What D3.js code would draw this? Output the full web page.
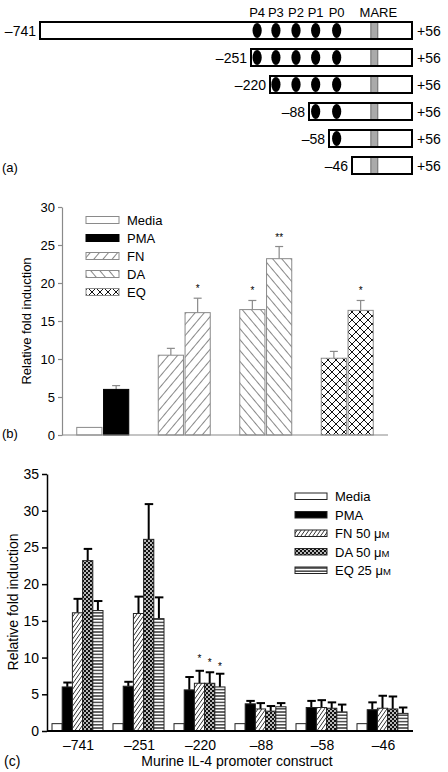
<!DOCTYPE html>
<html><head><meta charset="utf-8">
<script src="https://cdn.jsdelivr.net/npm/d3@7"></script>
<style>
html,body{margin:0;padding:0;background:#fff;}
svg{display:block;font-family:"Liberation Sans",Arial,Helvetica,sans-serif;}
</style></head>
<body><svg id="chart" width="448" height="772"></svg>
<script>
// ---------- Panel (a) data ----------
const constructStarts = [-741, -251, -220, -88, -58, -46];
const constructEnd = 56;
const siteNames = ["P4", "P3", "P2", "P1", "P0"];
const sitePositions = [-241, -200, -132, -78, -54];
const mareName = "MARE";
const marePosition = -8;

// ---------- Panel (b) data ----------
const bSeries = ["Media", "PMA", "FN", "DA", "EQ"];
const bGroups = ["Control", "FN", "DA", "EQ"];
const bGroupSeries = [["Media", "PMA"], ["FN", "FN"], ["DA", "DA"], ["EQ", "EQ"]];
const bValues = [[1.0, 6.0], [10.5, 16.1], [16.5, 23.2], [10.1, 16.4]];
const bErrTop = [[null, 6.5], [11.4, 18.0], [17.7, 24.8], [11.0, 17.7]];
const bStars = [["", ""], ["", "*"], ["*", "**"], ["", "*"]];
const bTicks = [0, 5, 10, 15, 20, 25, 30];

// ---------- Panel (c) data ----------
const cConstructs = ["–741", "–251", "–220", "–88", "–58", "–46"];
const cSeries = ["Media", "PMA", "FN 50 ", "DA 50 ", "EQ 25 "];
const cValues = [
  [1, 1, 1, 1, 1, 1],
  [6.0, 6.1, 5.6, 3.7, 3.2, 2.9],
  [16.1, 16.0, 6.5, 3.0, 3.2, 3.1],
  [23.2, 26.1, 6.5, 2.7, 3.1, 3.0],
  [16.4, 15.3, 6.0, 3.3, 2.6, 2.4]
];
const cErrTop = [
  [null, null, null, null, null, null],
  [6.6, 6.7, 7.35, 4.1, 4.1, 3.9],
  [18.0, 18.3, 8.2, 3.8, 4.2, 4.8],
  [24.8, 30.9, 8.0, 3.4, 3.9, 4.7],
  [17.7, 18.2, 7.8, 3.8, 3.6, 3.2]
];
const cStars = [
  ["", "", "", "", "", ""],
  ["", "", "", "", "", ""],
  ["", "", "*", "", "", ""],
  ["", "", "*", "", "", ""],
  ["", "", "*", "", "", ""]
];
const cTicks = [0, 5, 10, 15, 20, 25, 30, 35];

const svg = d3.select("#chart");
const defs = svg.append("defs");

// ---------- patterns ----------
function linePattern(id, size, angle, color, sw, bg) {
  const p = defs.append("pattern").attr("id", id).attr("patternUnits", "userSpaceOnUse")
    .attr("width", size).attr("height", size).attr("patternTransform", `rotate(${angle})`);
  p.append("rect").attr("width", size).attr("height", size).attr("fill", bg || "#fff");
  p.append("line").attr("x1", 0).attr("y1", 0).attr("x2", 0).attr("y2", size)
    .attr("stroke", color).attr("stroke-width", sw);
  return p;
}
// panel b
linePattern("bFN", 7, 40, "#111", 1);
linePattern("bDA", 7, -40, "#111", 1);
(function () {
  const p = defs.append("pattern").attr("id", "bEQ").attr("patternUnits", "userSpaceOnUse")
    .attr("width", 8).attr("height", 8);
  p.append("rect").attr("width", 8).attr("height", 8).attr("fill", "#fff");
  p.append("path").attr("d", "M0,0L8,8M8,0L0,8").attr("stroke", "#111").attr("stroke-width", 1);
})();
// panel c
linePattern("cFN", 3.2, 35, "#000", 1.3);
(function () {
  const p = defs.append("pattern").attr("id", "cDA").attr("patternUnits", "userSpaceOnUse")
    .attr("width", 4).attr("height", 4);
  p.append("rect").attr("width", 4).attr("height", 4).attr("fill", "#111");
  p.append("circle").attr("cx", 1).attr("cy", 1).attr("r", 0.95).attr("fill", "#fff");
  p.append("circle").attr("cx", 3).attr("cy", 3).attr("r", 0.95).attr("fill", "#fff");
})();
(function () {
  const p = defs.append("pattern").attr("id", "cEQ").attr("patternUnits", "userSpaceOnUse")
    .attr("width", 4).attr("height", 3.2);
  p.append("rect").attr("width", 4).attr("height", 3.2).attr("fill", "#fff");
  p.append("line").attr("x1", 0).attr("x2", 4).attr("y1", 1.6).attr("y2", 1.6)
    .attr("stroke", "#000").attr("stroke-width", 1.1);
})();

const bFill = { "Media": "#fff", "PMA": "#000", "FN": "url(#bFN)", "DA": "url(#bDA)", "EQ": "url(#bEQ)" };
const cFill = ["#fff", "#000", "url(#cFN)", "url(#cDA)", "url(#cEQ)"];

// ================= Panel (a) =================
const gA = svg.append("g");
const xA = d3.scaleLinear()
  .domain([...constructStarts, constructEnd])
  .range([40, 251, 270, 309, 329, 352, 412]);
const boxH = 17;

gA.selectAll("text.site").data(siteNames).join("text")
  .attr("x", (d, i) => xA(sitePositions[i])).attr("y", 17)
  .attr("text-anchor", "middle").attr("font-size", 13).text(d => d);
gA.append("text").attr("x", xA(marePosition) + 4).attr("y", 17)
  .attr("text-anchor", "middle").attr("font-size", 13).text(mareName);

constructStarts.forEach((s, i) => {
  const y0 = 22 + i * 27;
  const x0 = xA(s), x1 = xA(constructEnd);
  const cid = "clipRow" + i;
  defs.append("clipPath").attr("id", cid).append("rect")
    .attr("x", x0).attr("y", y0).attr("width", x1 - x0).attr("height", boxH);
  const row = gA.append("g");
  row.append("rect").attr("x", x0).attr("y", y0).attr("width", x1 - x0).attr("height", boxH).attr("fill", "#fff");
  const inner = row.append("g").attr("clip-path", `url(#${cid})`);
  sitePositions.forEach(p => {
    if (xA(p) + 5 > x0) {
      inner.append("ellipse").attr("cx", xA(p)).attr("cy", y0 + boxH / 2)
        .attr("rx", 4.6).attr("ry", 7.6).attr("fill", "#000");
    }
  });
  inner.append("rect").attr("x", xA(marePosition) - 3.5).attr("y", y0).attr("width", 7).attr("height", boxH)
    .attr("fill", "#aaa").attr("stroke", "#555").attr("stroke-width", 0.8);
  row.append("rect").attr("x", x0).attr("y", y0).attr("width", x1 - x0).attr("height", boxH)
    .attr("fill", "none").attr("stroke", "#000").attr("stroke-width", 2);
  row.append("text").attr("x", x0 - 4).attr("y", y0 + boxH / 2 + 5).attr("text-anchor", "end")
    .attr("font-size", 14).text("–" + Math.abs(s));
  row.append("text").attr("x", x1 + 5).attr("y", y0 + boxH / 2 + 5)
    .attr("font-size", 14).text("+" + constructEnd);
});
svg.append("text").attr("x", 2).attr("y", 172).attr("font-size", 13).text("(a)");

// ================= Panel (b) =================
const gB = svg.append("g");
const yB = d3.scaleLinear().domain([0, 30]).range([435, 207]);
const xB = d3.scaleBand().domain(bGroups).range([62, 388]);
const xBin = d3.scaleBand().domain([0, 1]).range([xB.bandwidth() / 2 - 26, xB.bandwidth() / 2 + 26]).paddingInner(0.06);
const grey = "#8a8a8a";

bGroups.forEach((g, gi) => {
  [0, 1].forEach(j => {
    const x = xB(g) + xBin(j), w = xBin.bandwidth();
    const v = bValues[gi][j];
    const s = bGroupSeries[gi][j];
    const e = bErrTop[gi][j];
    const cx = x + w / 2;
    if (e != null) {
      gB.append("line").attr("x1", cx).attr("x2", cx).attr("y1", yB(v)).attr("y2", yB(e)).attr("stroke", grey).attr("stroke-width", 1.2);
      gB.append("line").attr("x1", cx - 4).attr("x2", cx + 4).attr("y1", yB(e)).attr("y2", yB(e)).attr("stroke", grey).attr("stroke-width", 1.2);
    }
    gB.append("rect").attr("x", x).attr("y", yB(v)).attr("width", w).attr("height", yB(0) - yB(v))
      .attr("fill", bFill[s]).attr("stroke", s === "PMA" ? "#000" : grey).attr("stroke-width", 1);
    if (bStars[gi][j]) {
      gB.append("text").attr("x", cx).attr("y", yB(e) - 6).attr("text-anchor", "middle")
        .attr("font-size", 10).attr("fill", "#000").text(bStars[gi][j]);
    }
  });
});
gB.append("line").attr("x1", 62).attr("x2", 388).attr("y1", yB(0)).attr("y2", yB(0)).attr("stroke", grey).attr("stroke-width", 1.2);
const axB = gB.append("g").attr("transform", "translate(62,0)")
  .call(d3.axisLeft(yB).tickValues(bTicks).tickSize(4).tickSizeOuter(0).tickPadding(3));
axB.select(".domain").attr("stroke", grey).attr("stroke-width", 1.2);
axB.selectAll(".tick line").attr("stroke", grey).attr("stroke-width", 1.2);
axB.selectAll(".tick text").attr("font-size", 13).attr("font-family", "Liberation Sans, Arial, sans-serif").attr("fill", "#000");
gB.append("text").attr("transform", "translate(31,321) rotate(-90)").attr("text-anchor", "middle")
  .attr("font-size", 13).text("Relative fold induction");
svg.append("text").attr("x", 2).attr("y", 438).attr("font-size", 13).text("(b)");

// legend b
bSeries.forEach((s, i) => {
  const cy = 220 + i * 18;
  gB.append("rect").attr("x", 86).attr("y", cy - 3.5).attr("width", 33).attr("height", 7)
    .attr("fill", bFill[s]).attr("stroke", s === "PMA" ? "#000" : grey).attr("stroke-width", 1);
  gB.append("text").attr("x", 127).attr("y", cy + 5).attr("font-size", 13).text(s);
});

// ================= Panel (c) =================
const gC = svg.append("g");
const yC = d3.scaleLinear().domain([0, 35]).range([731, 474]);
const xC = d3.scaleBand().domain(cConstructs).range([47, 413]);
const xCin = d3.scaleBand().domain(d3.range(cSeries.length)).range([5, xC.bandwidth() - 5]);

cConstructs.forEach((c, ci) => {
  cSeries.forEach((s, si) => {
    const x = xC(c) + xCin(si), w = xCin.bandwidth();
    const v = cValues[si][ci], e = cErrTop[si][ci];
    const cx = x + w / 2;
    if (e != null) {
      gC.append("line").attr("x1", cx).attr("x2", cx).attr("y1", yC(v)).attr("y2", yC(e)).attr("stroke", "#000").attr("stroke-width", 2);
      gC.append("line").attr("x1", cx - 4).attr("x2", cx + 4.5).attr("y1", yC(e)).attr("y2", yC(e)).attr("stroke", "#000").attr("stroke-width", 2);
    }
    gC.append("rect").attr("x", x).attr("y", yC(v)).attr("width", w).attr("height", yC(0) - yC(v))
      .attr("fill", cFill[si]).attr("stroke", "#222").attr("stroke-width", 1);
    if (cStars[si][ci]) {
      gC.append("text").attr("x", cx).attr("y", yC(e) - 6 + (si === 4 ? 2 : 0) - (si === 2 ? 3 : 0)).attr("text-anchor", "middle")
        .attr("font-size", 10).attr("fill", "#000").text(cStars[si][ci]);
    }
  });
});
gC.append("line").attr("x1", 47).attr("x2", 413).attr("y1", yC(0)).attr("y2", yC(0)).attr("stroke", "#000").attr("stroke-width", 2);
const axC = gC.append("g").attr("transform", "translate(47,0)")
  .call(d3.axisLeft(yC).tickValues(cTicks).tickSize(5).tickSizeOuter(0).tickPadding(3));
axC.select(".domain").attr("stroke", "#000").attr("stroke-width", 1.5);
axC.selectAll(".tick line").attr("stroke", "#000").attr("stroke-width", 1.5);
axC.selectAll(".tick text").attr("font-size", 14).attr("font-family", "Liberation Sans, Arial, sans-serif").attr("fill", "#000");
gC.selectAll("text.xlab").data(cConstructs).join("text")
  .attr("x", d => xC(d) + xC.bandwidth() / 2 + 1).attr("y", 750)
  .attr("text-anchor", "middle").attr("font-size", 14).text(d => d);
gC.append("text").attr("x", 237).attr("y", 766).attr("text-anchor", "middle").attr("font-size", 14)
  .text("Murine IL-4 promoter construct");
gC.append("text").attr("transform", "translate(18,602) rotate(-90)").attr("text-anchor", "middle")
  .attr("font-size", 14).text("Relative fold induction");
svg.append("text").attr("x", 4).attr("y", 766).attr("font-size", 14).text("(c)");

// legend c
cSeries.forEach((s, i) => {
  const cy = 496 + i * 18.5;
  gC.append("rect").attr("x", 295).attr("y", cy - 3).attr("width", 32).attr("height", 6.5)
    .attr("fill", cFill[i]).attr("stroke", "#222").attr("stroke-width", 1);
  const t = gC.append("text").attr("x", 335).attr("y", cy + 5).attr("font-size", 13);
  t.append("tspan").text(s);
  if (i >= 2) {
    t.append("tspan").text("μ");
    t.append("tspan").attr("font-size", 9.5).text("M");
  }
});
</script></body></html>
